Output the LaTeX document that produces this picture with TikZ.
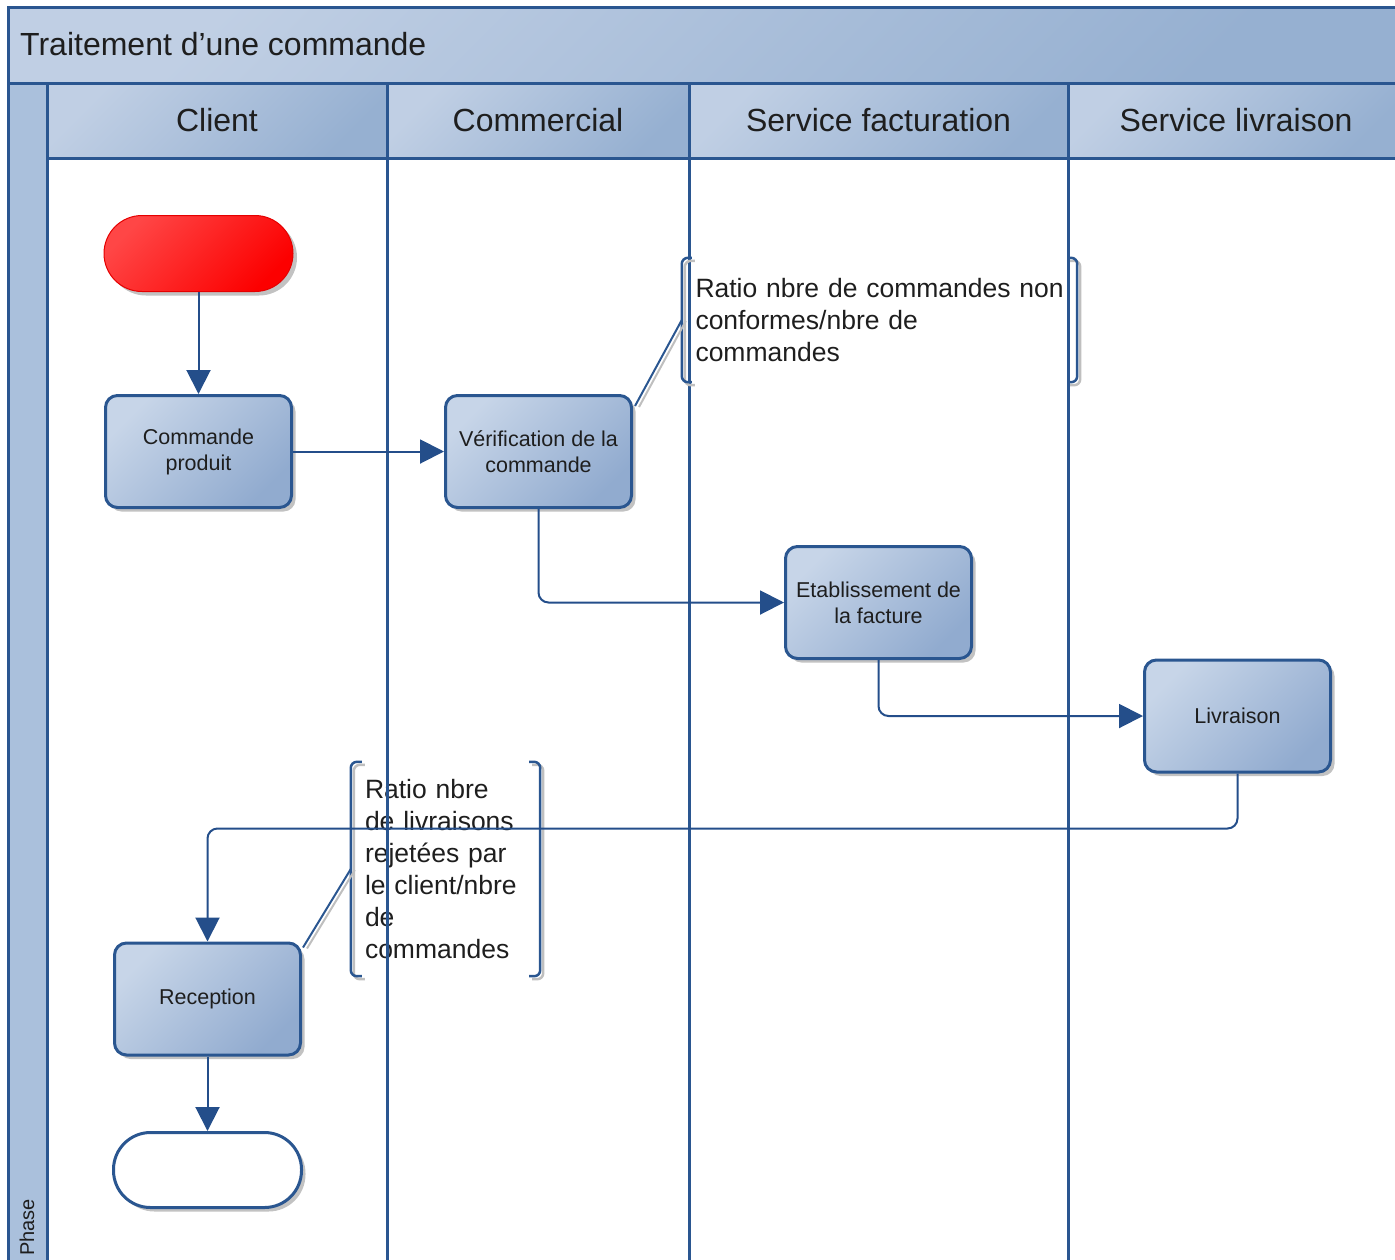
\documentclass[tikz,border=0pt]{standalone}
\usepackage{fontspec}
\setmainfont{Liberation Sans}
\usetikzlibrary{arrows.meta,shadows,calc}

\definecolor{laneblue}{RGB}{42,86,144}
\definecolor{flowblue}{RGB}{36,78,138}
\definecolor{headlight}{RGB}{192,207,228}
\definecolor{headdark}{RGB}{150,176,209}
\definecolor{phaseblue}{RGB}{170,192,220}
\definecolor{boxlight}{RGB}{199,213,232}
\definecolor{boxdark}{RGB}{145,171,207}
\definecolor{startlight}{RGB}{255,70,70}
\definecolor{startdark}{RGB}{252,0,0}
\definecolor{txt}{RGB}{30,30,30}

\tikzset{
  frame/.style={draw=laneblue, line width=3pt},
  headshade/.style={top color=headlight, bottom color=headdark, shading angle=45},
  lanehead/.style={rectangle, headshade, draw=laneblue, line width=3pt,
    font=\fontsize{32}{36}\selectfont, text=txt},
  boxshadow/.style={drop shadow={shadow xshift=4pt, shadow yshift=-4pt, opacity=0.4, fill=black!60}},
  process/.style={rectangle, rounded corners=12pt, draw=laneblue, line width=3pt,
    top color=boxlight, bottom color=boxdark, shading angle=45,
    minimum width=186pt, minimum height=112pt, align=center, text=txt,
    font=\fontsize{21.5}{26}\selectfont, boxshadow},
  startterm/.style={rectangle, rounded corners=38pt, draw=red!90!black, line width=1pt,
    top color=startlight, bottom color=startdark, shading angle=45,
    minimum width=189pt, minimum height=76pt, boxshadow},
  endterm/.style={rectangle, rounded corners=37pt, draw=laneblue, line width=3pt,
    fill=white, minimum width=188pt, minimum height=75pt, boxshadow},
  note/.style={rectangle, align=left, text=txt, inner ysep=0pt,
    font=\fontsize{26.5}{32}\selectfont},
  bracket/.style={draw=laneblue, line width=2.5pt, rounded corners=6pt},
  bracketshadow/.style={draw=black!25, line width=2.5pt, rounded corners=6pt,
    transform canvas={xshift=3pt, yshift=-3pt}},
  noteline/.style={draw=laneblue, line width=2pt},
  notelineshadow/.style={draw=black!25, line width=2pt,
    transform canvas={xshift=4pt, yshift=-1pt}},
  flow/.style={draw=flowblue, line width=2pt, -{Triangle[length=24pt, width=24pt]}},
}

\begin{document}
\begin{tikzpicture}[x=1pt, y=-1pt]
\useasboundingbox (0,0) rectangle (1395,1259);
\clip (0,0) rectangle (1395,1259);

% pool title bar and phase column
\shade[headshade] (8,7) rectangle (1405,83);
\fill[phaseblue] (8,83) rectangle (47,1270);
\node[anchor=west, text=txt, font=\fontsize{32}{36}\selectfont, inner sep=0pt]
  (title) at (20,44) {Traitement d’une commande};
\node[rotate=90, anchor=west, text=txt, font=\fontsize{20}{24}\selectfont, inner sep=0pt]
  (phase) at (27,1256) {Phase};

% lane headers
\node[lanehead, minimum width=340pt, minimum height=75pt] (hclient) at (217,120.5) {Client};
\node[lanehead, minimum width=302pt, minimum height=75pt] (hcom) at (538,120.5) {Commercial};
\node[lanehead, minimum width=379pt, minimum height=75pt] (hfact) at (878.5,120.5) {Service facturation};
\node[lanehead, minimum width=336pt, minimum height=75pt] (hlivr) at (1236,120.5) {Service livraison};

% annotation texts
\node[note, minimum width=395pt, minimum height=124pt, text width=368pt, inner xsep=13pt]
  (note1) at (879.5,320) {\mbox{Ratio nbre de commandes non}\\conformes/nbre de\\commandes};
\node[note, minimum width=189pt, minimum height=214pt, text width=161pt, inner xsep=14pt]
  (note2) at (445.5,869) {\raisebox{3pt}{\parbox[t]{161pt}{\raggedright Ratio nbre\\de livraisons\\rejetées par\\le client/nbre\\de\\commandes}}};

% pool frame and lane dividers
\draw[frame] (1405,7) -- (8,7) -- (8,1270);
\draw[frame] (8,83) -- (1405,83);
\draw[frame] (47,83) -- (47,1270);
\draw[frame] (47,158) -- (1405,158);
\draw[frame] (387,83) -- (387,1270);
\draw[frame] (689,83) -- (689,1270);
\draw[frame] (1068,83) -- (1068,1270);

% flow nodes
\node[startterm] (start) at (198.5,253.5) {};
\node[process] (cmd) at (198.5,451.5) {Commande\\produit};
\node[process] (verif) at (538.5,451.5) {Vérification de la\\commande};
\node[process] (fact) at (878.5,602.5) {Etablissement de\\la facture};
\node[process] (livr) at (1237.5,716) {Livraison};
\node[process] (recep) at (207.5,999) {Reception};
\node[endterm] (stop) at (207.5,1170) {};

% annotation brackets
\foreach \n/\t in {note1/10, note2/11} {
  \draw[bracketshadow] ([xshift=\t pt]\n.north west) -- (\n.north west) -- (\n.south west) -- ([xshift=\t pt]\n.south west);
  \draw[bracketshadow] ([xshift=-\t pt]\n.north east) -- (\n.north east) -- (\n.south east) -- ([xshift=-\t pt]\n.south east);
  \draw[bracket] ([xshift=\t pt]\n.north west) -- (\n.north west) -- (\n.south west) -- ([xshift=\t pt]\n.south west);
  \draw[bracket] ([xshift=-\t pt]\n.north east) -- (\n.north east) -- (\n.south east) -- ([xshift=-\t pt]\n.south east);
}
\draw[notelineshadow] ([xshift=2pt, yshift=-12pt]verif.north east) -- (note1.west);
\draw[noteline] ([xshift=2pt, yshift=-12pt]verif.north east) -- (note1.west);
\draw[notelineshadow] ([xshift=1pt, yshift=-6pt]recep.north east) -- (note2.west);
\draw[noteline] ([xshift=1pt, yshift=-6pt]recep.north east) -- (note2.west);

% sequence flow
\draw[flow] (start.south) -- (cmd.north);
\draw[flow] (cmd.east) -- (verif.west);
\draw[flow, rounded corners=10pt] (verif.south) |- (fact.west);
\draw[flow, rounded corners=10pt] (fact.south) |- (livr.west);
\draw[flow, rounded corners=10pt] (livr.south) -- ++(0,55) -| (recep.north);
\draw[flow] (recep.south) -- (stop.north);
\end{tikzpicture}
\end{document}
